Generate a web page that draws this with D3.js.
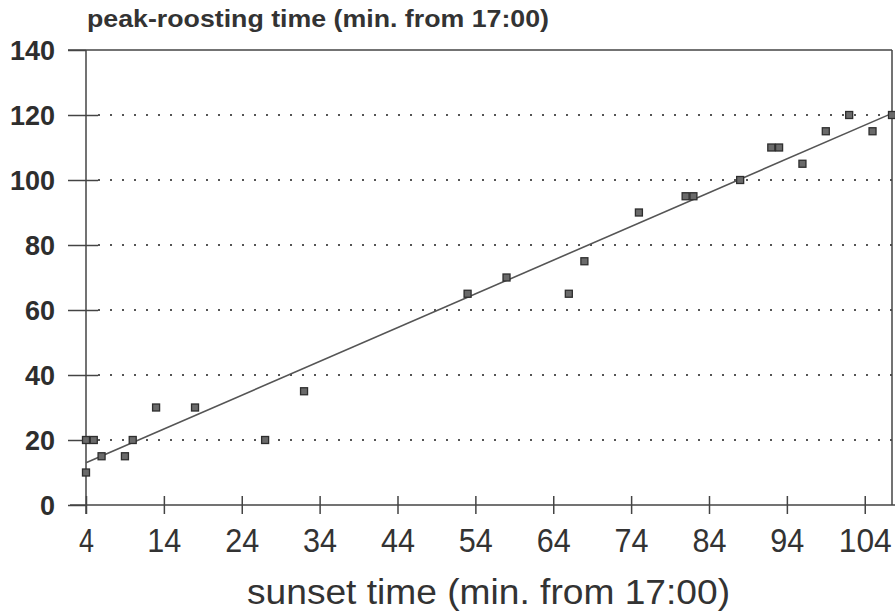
<!DOCTYPE html>
<html>
<head>
<meta charset="utf-8">
<script src="https://cdn.jsdelivr.net/npm/d3@7"></script>
<style>
  body { margin: 0; background: #fff; }
  svg { display: block; }
  .ylab { font-family: "Liberation Sans", Arial, sans-serif; font-weight: bold; font-size: 27px; fill: #2e2e2e; }
  .xlab { font-family: "Liberation Sans", Arial, sans-serif; font-size: 33px; fill: #333; }
  .title { font-family: "Liberation Sans", Arial, sans-serif; fill: #333; }
</style>
</head>
<body>
<div id="chart"></div>
<script>
// Werte
const sunset = [4, 4, 5, 6, 9, 10, 13, 18, 27, 32, 53, 58, 66, 68, 75, 81, 82, 88, 92, 93, 96, 99, 102, 105, 107.5]
const roost  = [10, 20, 20, 15, 15, 20, 30, 30, 20, 35, 65, 70, 65, 75, 90, 95, 95, 100, 110, 110, 105, 115, 120, 115, 120]
const xTicks = [4, 14, 24, 34, 44, 54, 64, 74, 84, 94, 104]
const yTicks = [0, 20, 40, 60, 80, 100, 120, 140]
const fitX = [4, 107.5]
const fitY = [13, 120.5]

const width = 895
const height = 614

const x = d3.scaleLinear().domain([4, 107.5]).range([86, 892])
const y = d3.scaleLinear().domain([0, 140]).range([505, 50])

const svg = d3.select("#chart")
  .append("svg")
  .attr("width", width)
  .attr("height", height)

const lineCol = "#444"

// Gitterlinien (gepunktet)
svg.append("g")
  .selectAll("line")
  .data(yTicks.filter(d => d > 0 && d < 140))
  .enter()
  .append("line")
  .attr("x1", x(4) + 12)
  .attr("x2", x(107.5))
  .attr("y1", d => y(d))
  .attr("y2", d => y(d))
  .attr("stroke", "#555")
  .attr("stroke-width", 2)
  .attr("stroke-dasharray", "2,10")

// Rahmen oben / rechts
svg.append("line")
  .attr("x1", x(4) - 18).attr("x2", x(107.5))
  .attr("y1", y(140)).attr("y2", y(140))
  .attr("stroke", lineCol).attr("stroke-width", 1.5)
svg.append("line")
  .attr("x1", x(107.5)).attr("x2", x(107.5))
  .attr("y1", y(140)).attr("y2", y(0))
  .attr("stroke", lineCol).attr("stroke-width", 1.5)

// y-Achse
const yAxis = d3.axisLeft(y).tickValues(yTicks).tickSizeInner(18).tickSizeOuter(0).tickPadding(14)
const gy = svg.append("g").attr("transform", "translate(" + x(4) + ",0)").call(yAxis)
gy.select(".domain").attr("stroke", lineCol).attr("stroke-width", 1.5)
  .attr("d", "M0," + y(140) + "V" + (y(0) + 9))
gy.selectAll(".tick line").attr("stroke", lineCol).attr("stroke-width", 1.5)
  .attr("x2", d => (d > 0 && d < 140) ? 12 : 0).attr("x1", -18)
gy.selectAll(".tick text").attr("class", "ylab").attr("x", -31).attr("dy", "0.36em")

// x-Achse
const xAxis = d3.axisBottom(x).tickValues(xTicks).tickSizeInner(9).tickSizeOuter(0).tickPadding(20)
const gx = svg.append("g").attr("transform", "translate(0," + y(0) + ")").call(xAxis)
gx.select(".domain").attr("stroke", lineCol).attr("stroke-width", 1.5)
  .attr("d", "M" + (x(4) - 16) + ",0H" + width)
gx.selectAll(".tick line").attr("stroke", lineCol).attr("stroke-width", 1.5).attr("y1", -9)
gx.selectAll(".tick text").attr("class", "xlab")
  .attr("y", 47).attr("dy", null)
  .attr("transform", null)
  .each(function () {
    const t = d3.select(this)
    const n = t.text().length
    t.attr("textLength", n * 15 + (n - 1) * 4).attr("lengthAdjust", "spacingAndGlyphs")
  })

// Regressionsgerade
svg.append("line")
  .attr("x1", x(fitX[0])).attr("y1", y(fitY[0]))
  .attr("x2", x(fitX[1])).attr("y2", y(fitY[1]))
  .attr("stroke", "#555").attr("stroke-width", 1.6)

// Messpunkte
const pts = sunset.map((d, i) => ({ x: d, y: roost[i] }))
const s = 7
svg.append("g")
  .selectAll("rect")
  .data(pts)
  .enter()
  .append("rect")
  .attr("x", d => x(d.x) - s / 2)
  .attr("y", d => y(d.y) - s / 2)
  .attr("width", s)
  .attr("height", s)
  .attr("fill", "#6a6a6a")
  .attr("stroke", "#2e2e2e")
  .attr("stroke-width", 1.3)

// Beschriftungen
svg.append("text")
  .attr("class", "title")
  .attr("x", 87).attr("y", 27)
  .attr("font-size", 24).attr("font-weight", "bold")
  .attr("textLength", 462).attr("lengthAdjust", "spacingAndGlyphs")
  .text("peak-roosting time (min. from 17:00)")

svg.append("text")
  .attr("class", "title")
  .attr("x", 247).attr("y", 604)
  .attr("font-size", 35)
  .attr("textLength", 483).attr("lengthAdjust", "spacingAndGlyphs")
  .text("sunset time (min. from 17:00)")
</script>
</body>
</html>
